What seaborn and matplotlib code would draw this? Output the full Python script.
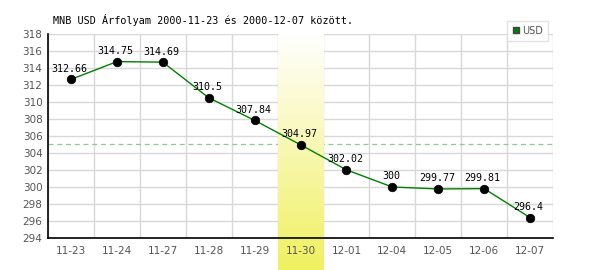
import numpy as np
import pandas as pd
import matplotlib
matplotlib.use("Agg")
import matplotlib.pyplot as plt
import seaborn as sns
from matplotlib.colors import LinearSegmentedColormap
from matplotlib.lines import Line2D

dates = ["11-23", "11-24", "11-27", "11-28", "11-29", "11-30",
         "12-01", "12-04", "12-05", "12-06", "12-07"]
usd = [312.66, 314.75, 314.69, 310.5, 307.84, 304.97,
       302.02, 300, 299.77, 299.81, 296.4]
labels = ["312.66", "314.75", "314.69", "310.5", "307.84", "304.97",
          "302.02", "300", "299.77", "299.81", "296.4"]
ref_level = 305.1
highlight = "11-30"
yticks = list(range(294, 319, 2))
title = "MNB USD Árfolyam 2000-11-23 és 2000-12-07 között."

sns.set_style("white")
plt.rcParams['font.family'] = ['DejaVu Sans']

df = pd.DataFrame({"date": dates, "usd": usd})

fig = plt.figure(figsize=(6, 2.7), dpi=100)
ax = fig.add_axes([48/600, 32/270, 505/600, 204/270])

sns.lineplot(data=df, x="date", y="usd", color="#008000", lw=1, ax=ax, zorder=4, sort=False)
sns.scatterplot(data=df, x="date", y="usd", color="black", s=38, edgecolor="black", ax=ax, zorder=5)

ax.set_xlim(-0.5, len(dates) - 0.5)
ax.set_ylim(294, 318)
ax.set_yticks(yticks)
ax.set_xticks(range(len(dates)))
ax.set_xticklabels(dates)
ax.set_xlabel("")
ax.set_ylabel("")

# grid at category boundaries
for k in range(len(dates) + 1):
    ax.axvline(k - 0.5, color="#d8d8d8", lw=1, zorder=1)
for yv in yticks:
    ax.axhline(yv, color="#d8d8d8", lw=1, zorder=1)

ax.axhline(ref_level, color="#90c890", lw=0.9, ls=(0, (4, 3)), zorder=2)

# highlight gradient column extending below axis
hi = dates.index(highlight)
bottom_ext = 294 - 32 / 204 * 24
cmap = LinearSegmentedColormap.from_list("hl", ["#ffffff", "#f0f060"])
grad = np.linspace(0, 1, 256).reshape(-1, 1)
ax.imshow(grad, aspect="auto", cmap=cmap, origin="upper",
          extent=(hi - 0.5, hi + 0.5, bottom_ext, 318), zorder=3, clip_on=False)
ax.set_xlim(-0.5, len(dates) - 0.5)
ax.set_ylim(294, 318)

for i, (v, lab) in enumerate(zip(usd, labels)):
    ax.annotate(lab, (i, v), xytext=(-1, 4), textcoords="offset points",
                ha="center", va="bottom", fontsize=7.2, family="DejaVu Sans Mono",
                color="black", zorder=6)

for side in ["top", "right"]:
    ax.spines[side].set_visible(False)
ax.spines["left"].set_color("black")
ax.spines["bottom"].set_color("black")
ax.spines["left"].set_linewidth(1.2)
ax.spines["bottom"].set_linewidth(1.2)
ax.spines["left"].set_zorder(7)
ax.spines["bottom"].set_zorder(7)

ax.tick_params(axis="both", length=0, labelsize=7.5, labelcolor="#555555")
ax.tick_params(axis="x", pad=6)
ax.tick_params(axis="y", pad=4)
ax.xaxis.set_zorder(6)
ax.yaxis.set_zorder(6)

fig.text(53/600, 1 - 20/270, title, fontsize=7.3, family="DejaVu Sans Mono",
         color="black", va="center", ha="left")

handle = Line2D([], [], marker="s", color="none", markerfacecolor="#008000",
                markeredgecolor="#444444", markersize=5)
leg = fig.legend([handle], ["USD"], loc="upper right",
                 bbox_to_anchor=(553/600, 1 - 16/270), frameon=True, fancybox=False,
                 fontsize=7, handlelength=0.8, handletextpad=0.3, borderpad=0.5,
                 labelcolor="#555555")
leg.get_frame().set_edgecolor("#dddddd")
leg.get_frame().set_linewidth(1)

fig.savefig("out.png", dpi=100)
